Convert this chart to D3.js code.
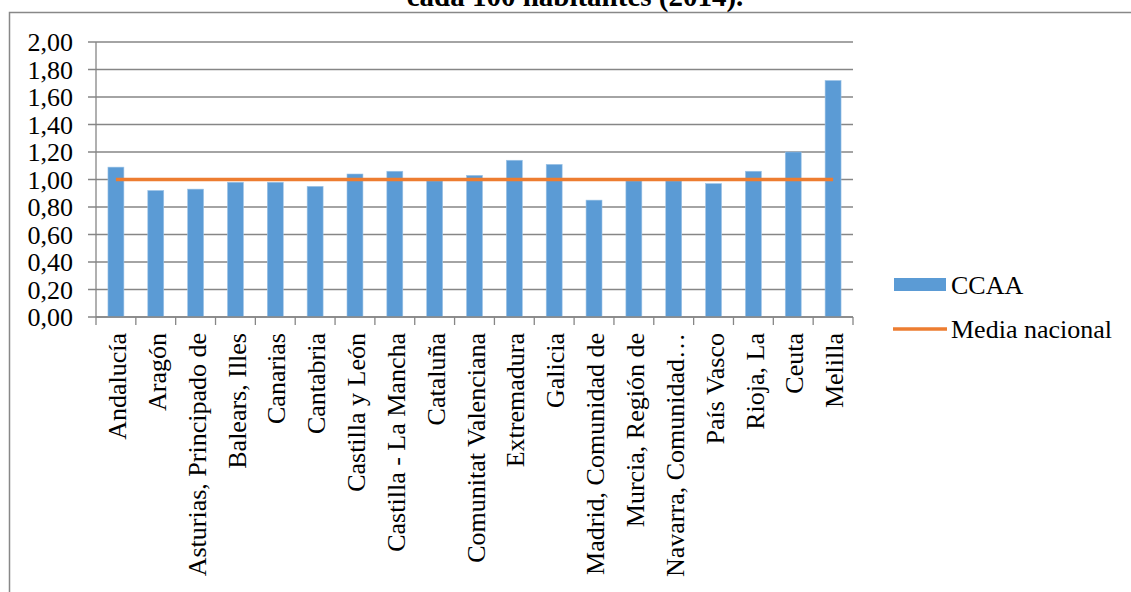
<!DOCTYPE html>
<html>
    <head>
        <title>CCAA - cada 100 habitantes (2014)</title>
        <meta charset="UTF-8">
        <style>
            body { margin: 0; background: white; }
            text
            {
                font-family: "Liberation Serif", "Times New Roman", serif;
                fill: black;
                font-size: 26px;
            }
            .grid line { stroke: #868686; stroke-width: 1.3; }
        </style>
    </head>
    <body>
        <svg width="1131" height="592">
            <rect id="frame" x="9.5" y="12.5" width="1140" height="600" fill="none" stroke="#888" stroke-width="1.5"></rect>
            <g id="grid" class="grid"></g>
            <g id="bars"></g>
            <g id="axes"></g>
            <g id="legend"></g>
        </svg>
        <script src="https://cdn.jsdelivr.net/npm/d3@7"></script>
        <script>
            var categories = ["Andalucía", "Aragón", "Asturias, Principado de", "Balears, Illes",
                              "Canarias", "Cantabria", "Castilla y León", "Castilla - La Mancha",
                              "Cataluña", "Comunitat Valenciana", "Extremadura", "Galicia",
                              "Madrid, Comunidad de", "Murcia, Región de", "Navarra, Comunidad…",
                              "País Vasco", "Rioja, La", "Ceuta", "Melilla"];
            var ccaa = [1.09, 0.92, 0.93, 0.98, 0.98, 0.95, 1.04, 1.06, 0.99, 1.03,
                        1.14, 1.11, 0.85, 0.99, 0.99, 0.97, 1.06, 1.20, 1.72];
            var media = categories.map(function() { return 1.00; });
            var yTicks = [0, 0.2, 0.4, 0.6, 0.8, 1.0, 1.2, 1.4, 1.6, 1.8, 2.0];

            var svg = d3.select("svg");
            var plotL = 96, plotR = 853, plotT = 42, plotB = 317;

            var x = d3.scaleBand().domain(categories).range([plotL, plotR])
                        .paddingInner(0.6).paddingOuter(0.3);
            var y = d3.scaleLinear().domain([0, 2]).range([plotB, plotT]);
            var fmt = function(v) { return d3.format(".2f")(v).replace(".", ","); };

            // title (cut at the top like the source)
            svg.append("text")
                .attr("x", 575).attr("y", 6)
                .attr("text-anchor", "middle")
                .style("font-weight", "bold").style("font-size", "29px")
                .text("cada 100 habitantes (2014).");

            // horizontal gridlines + y labels
            var g = d3.select("#grid");
            g.selectAll("line").data(yTicks).enter().append("line")
                .attr("x1", plotL - 8).attr("x2", plotR)
                .attr("y1", d => y(d)).attr("y2", d => y(d));
            d3.select("#axes").selectAll("text.ylab").data(yTicks).enter().append("text")
                .attr("class", "ylab")
                .attr("x", 73).attr("y", d => y(d))
                .attr("dy", "0.35em")
                .attr("text-anchor", "end")
                .text(fmt);

            // bars
            d3.select("#bars").selectAll("rect").data(ccaa).enter().append("rect")
                .attr("x", (d, i) => x(categories[i]))
                .attr("width", x.bandwidth())
                .attr("y", d => y(d))
                .attr("height", d => y(0) - y(d))
                .attr("fill", "#5B9BD5")
                .attr("stroke", "#9DC3E6").attr("stroke-width", 0.6);

            // media nacional line
            var line = d3.line()
                .x((d, i) => x(categories[i]) + x.bandwidth() / 2)
                .y(d => y(d));
            svg.append("path").datum(media)
                .attr("d", line)
                .attr("fill", "none")
                .attr("stroke", "#ED7D31")
                .attr("stroke-width", 3.5);

            // axes lines and category ticks
            var a = d3.select("#axes");
            a.append("line").attr("x1", plotL).attr("x2", plotL).attr("y1", plotT).attr("y2", plotB)
                .attr("stroke", "#868686").attr("stroke-width", 1.3);
            a.append("line").attr("x1", plotL).attr("x2", plotR).attr("y1", plotB).attr("y2", plotB)
                .attr("stroke", "#868686").attr("stroke-width", 1.3);
            var step = x.step();
            a.selectAll("line.xt").data(d3.range(categories.length + 1)).enter().append("line")
                .attr("class", "xt")
                .attr("x1", i => plotL + i * step).attr("x2", i => plotL + i * step)
                .attr("y1", plotB).attr("y2", plotB + 8)
                .attr("stroke", "#868686").attr("stroke-width", 1.3);

            a.selectAll("text.xlab").data(categories).enter().append("text")
                .attr("class", "xlab")
                .attr("transform", d => "translate(" + (x(d) + x.bandwidth() / 2 + 1) + "," + 333 + ") rotate(-90)")
                .attr("dy", "0.35em")
                .attr("text-anchor", "end")
                .text(d => d);

            // legend
            var lg = d3.select("#legend");
            lg.append("rect").attr("x", 894).attr("y", 278).attr("width", 52).attr("height", 13)
                .attr("fill", "#5B9BD5");
            lg.append("text").attr("x", 951).attr("y", 285).attr("dy", "0.35em").text("CCAA");
            lg.append("line").attr("x1", 893).attr("x2", 947).attr("y1", 329).attr("y2", 329)
                .attr("stroke", "#ED7D31").attr("stroke-width", 3.5);
            lg.append("text").attr("x", 951).attr("y", 329).attr("dy", "0.35em").text("Media nacional");
        </script>
    </body>
</html>
